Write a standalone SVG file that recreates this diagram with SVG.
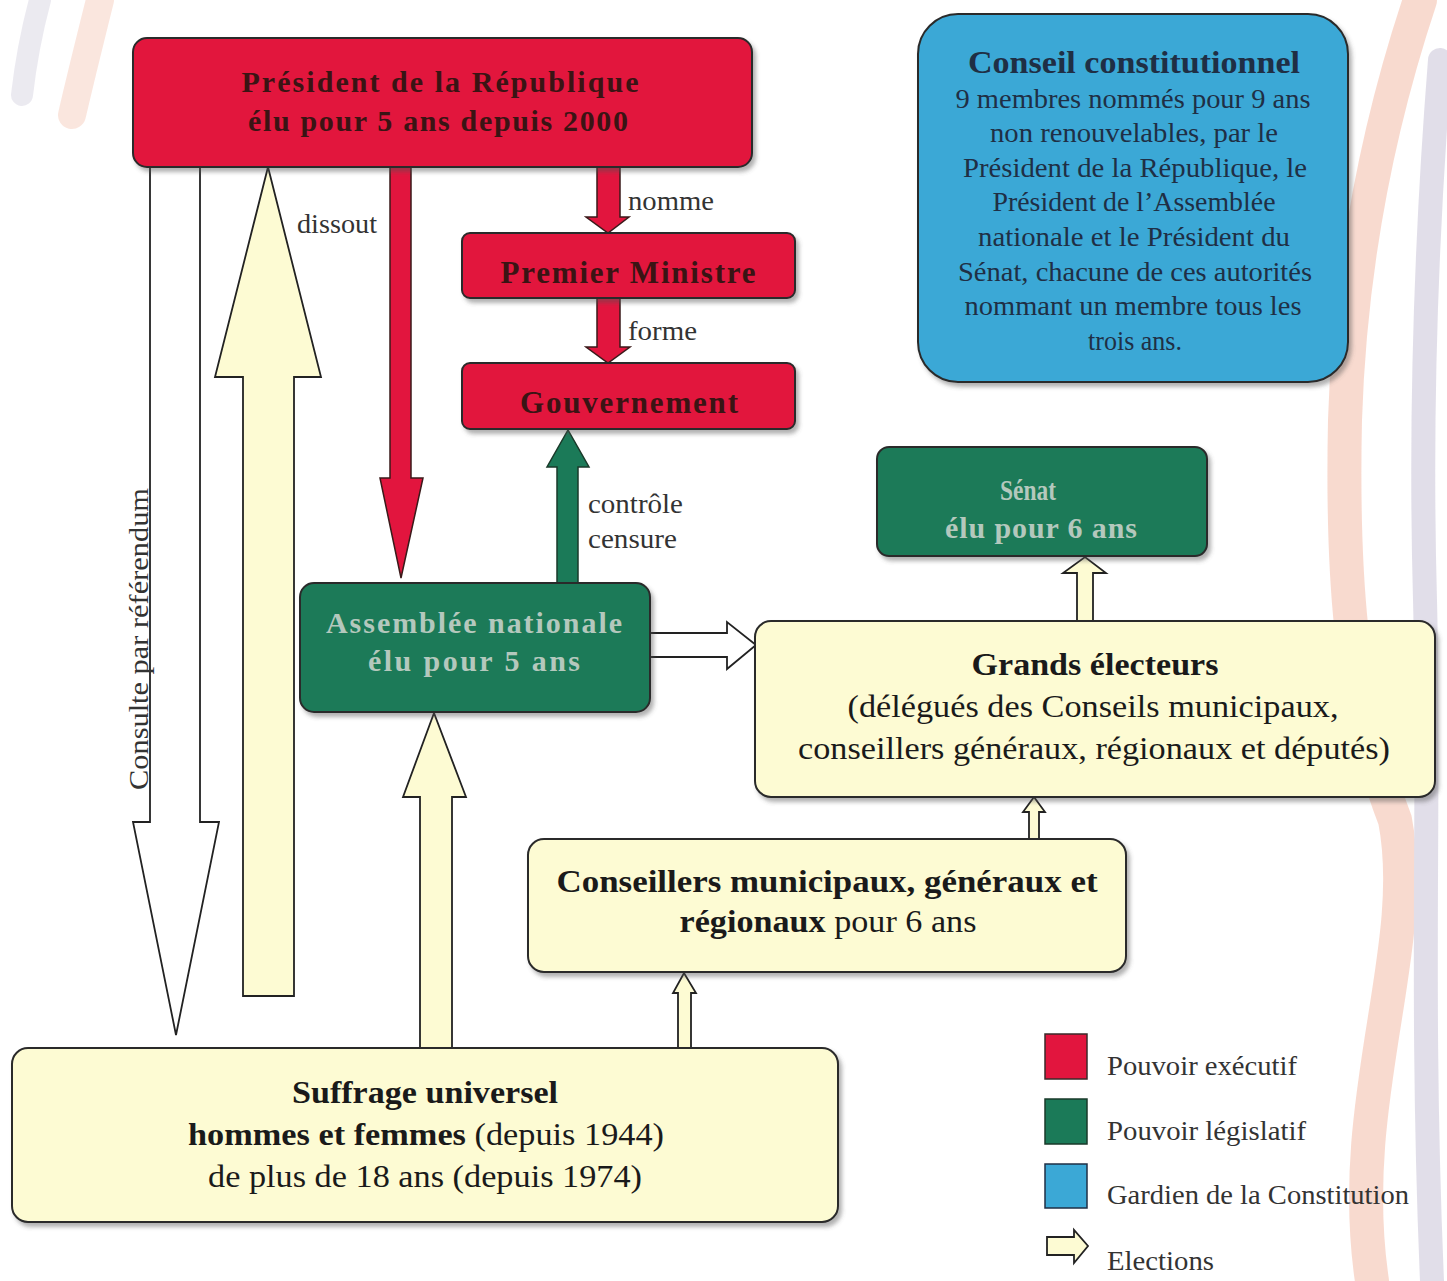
<svg xmlns="http://www.w3.org/2000/svg" width="1447" height="1281" viewBox="0 0 1447 1281" font-family="'Liberation Serif','Times New Roman',serif">
<defs>
<filter id="sh" x="-5%" y="-5%" width="115%" height="125%">
<feDropShadow dx="3" dy="4" stdDeviation="2" flood-color="#555" flood-opacity="0.45"/>
</filter>
<style>
text{font-family:"Liberation Serif","Times New Roman",serif;}
.box{stroke:#2b2b2b;stroke-width:2;filter:url(#sh);}
.red{fill:#e2153e;}
.green{fill:#1b7a58;}
.blue{fill:#3ba8d6;}
.yel{fill:#fdfbd3;}
.tr{fill:#3a1414;font-weight:bold;}
.tg{fill:#b4c8bd;font-weight:bold;}
.tb{fill:#1f2f45;}
.tk{fill:#1a1a1a;}
.lbl{fill:#333;font-size:28px;}
.arR{fill:#e2153e;stroke:#3a1a1a;stroke-width:1.5;}
.arG{fill:#1b7a58;stroke:#1a3a2a;stroke-width:1.5;}
.arY{fill:#fdfbd3;stroke:#222;stroke-width:1.8;}
.arW{fill:#ffffff;stroke:#222;stroke-width:1.8;}
.deco{fill:none;stroke-linecap:round;}
</style>
</defs>
<rect x="0" y="0" width="1447" height="1281" fill="#ffffff"/>
<g id="background" opacity="0.4">
<path class="deco" d="M1420 0 C1380 120 1350 260 1345 420 C1342 560 1348 700 1395 820 C1420 950 1345 1100 1372 1281" stroke="#f0a488" stroke-width="34"/>
<path class="deco" d="M1440 60 C1425 250 1420 420 1425 600 C1430 800 1420 1000 1432 1281" stroke="#b6aec9" stroke-width="24"/>
<path class="deco" d="M100 0 C90 40 80 80 72 115" stroke="#f5c1ad" stroke-width="28"/>
<path class="deco" d="M40 0 C32 30 26 60 22 95" stroke="#cfcbdc" stroke-width="22"/>
</g>

<g id="connectors">
<polygon id="arrow-referendum" class="arW" points="150,167 200,167 200,822 219,822 176,1035 133,822 150,822"/>
<polygon id="arrow-elect-president" class="arY" points="243,996 243,377 215,377 268,167 321,377 294,377 294,996"/>
<polygon id="arrow-dissout" class="arR" points="390,167 411,167 411,478 423,478 401,578 380,478 390,478"/>
<polygon id="arrow-nomme" class="arR" points="597,167 620,167 620,217 629,217 608,233 586,217 597,217"/>
<polygon id="arrow-forme" class="arR" points="597,298 620,298 620,347 630,347 608,363 586,347 597,347"/>
<polygon id="arrow-controle" class="arG" points="557,583 578,583 578,467 589,467 568,430 547,467 557,467"/>
<polygon id="arrow-an-ge" class="arW" points="650,633 727,633 727,622 756,645 727,669 727,657 650,657"/>
<polygon id="arrow-su-an" class="arY" points="420,1048 420,797 403,797 434,713 466,797 452,797 452,1048"/>
<polygon id="arrow-su-co" class="arY" points="678,1048 678,993 673,993 684,973 696,993 691,993 691,1048"/>
<polygon id="arrow-co-ge" class="arY" points="1029,839 1029,812 1023,812 1034,797 1045,812 1039,812 1039,839"/>
<polygon id="arrow-ge-se" class="arY" points="1077,621 1077,573 1063,573 1085,557 1106,573 1093,573 1093,621"/>
<text class="lbl" x="628" y="210" textLength="86" lengthAdjust="spacingAndGlyphs">nomme</text>
<text class="lbl" x="628" y="340" textLength="69" lengthAdjust="spacingAndGlyphs">forme</text>
<text class="lbl" x="297" y="233" textLength="80" lengthAdjust="spacingAndGlyphs">dissout</text>
<text class="lbl" x="588" y="513" textLength="95" lengthAdjust="spacingAndGlyphs">contrôle</text>
<text class="lbl" x="588" y="548" textLength="89" lengthAdjust="spacingAndGlyphs">censure</text>
<text class="lbl" font-size="29" text-anchor="middle" transform="translate(148,639) rotate(-90)" textLength="302" lengthAdjust="spacingAndGlyphs">Consulte par référendum</text>
</g>

<g id="president">
<rect class="box red" x="133" y="38" width="619" height="129" rx="14"/>
<text class="tr" x="440" y="92" font-size="30" text-anchor="middle" textLength="397" lengthAdjust="spacing">Président de la République</text>
<text class="tr" x="438" y="131" font-size="30" text-anchor="middle" textLength="380" lengthAdjust="spacing">élu pour 5 ans depuis 2000</text>
</g>

<g id="conseil-constitutionnel">
<rect class="box blue" x="918" y="14" width="430" height="368" rx="40"/>
<text class="tb" x="1134" y="73" font-size="31" font-weight="bold" text-anchor="middle" textLength="332" lengthAdjust="spacingAndGlyphs">Conseil constitutionnel</text>
<g font-size="27" text-anchor="middle" class="tb">
<text x="1133" y="108" textLength="355" lengthAdjust="spacingAndGlyphs">9 membres nommés pour 9 ans</text>
<text x="1134" y="142" textLength="288" lengthAdjust="spacingAndGlyphs">non renouvelables, par le</text>
<text x="1135" y="177" textLength="344" lengthAdjust="spacingAndGlyphs">Président de la République, le</text>
<text x="1134" y="211" textLength="283" lengthAdjust="spacingAndGlyphs">Président de l’Assemblée</text>
<text x="1134" y="246" textLength="312" lengthAdjust="spacingAndGlyphs">nationale et le Président du</text>
<text x="1135" y="281" textLength="354" lengthAdjust="spacingAndGlyphs">Sénat, chacune de ces autorités</text>
<text x="1133" y="315" textLength="337" lengthAdjust="spacingAndGlyphs">nommant un membre tous les</text>
<text x="1135" y="350" textLength="94" lengthAdjust="spacingAndGlyphs">trois ans.</text>
</g>
</g>

<g id="premier-ministre">
<rect class="box red" x="462" y="233" width="333" height="65" rx="8"/>
<text class="tr" x="628" y="283" font-size="31" text-anchor="middle" textLength="255" lengthAdjust="spacing">Premier Ministre</text>
</g>

<g id="gouvernement">
<rect class="box red" x="462" y="363" width="333" height="66" rx="8"/>
<text class="tr" x="629" y="413" font-size="31" text-anchor="middle" textLength="218" lengthAdjust="spacing">Gouvernement</text>
</g>

<g id="senat">
<rect class="box green" x="877" y="447" width="330" height="109" rx="12"/>
<text class="tg" x="1028" y="500" font-size="30" text-anchor="middle" textLength="56" lengthAdjust="spacingAndGlyphs">Sénat</text>
<text class="tg" x="1041" y="538" font-size="30" text-anchor="middle" textLength="192" lengthAdjust="spacing">élu pour 6 ans</text>
</g>

<g id="assemblee-nationale">
<rect class="box green" x="300" y="583" width="350" height="129" rx="14"/>
<text class="tg" x="474" y="633" font-size="30" text-anchor="middle" textLength="296" lengthAdjust="spacing" fill="#a3b8ac">Assemblée nationale</text>
<text class="tg" x="474" y="671" font-size="30" text-anchor="middle" textLength="212" lengthAdjust="spacing">élu pour 5 ans</text>
</g>

<g id="grands-electeurs">
<rect class="box yel" x="755" y="621" width="680" height="176" rx="16"/>
<text class="tk" x="1095" y="675" font-size="32" font-weight="bold" text-anchor="middle" textLength="247" lengthAdjust="spacingAndGlyphs">Grands électeurs</text>
<text class="tk" x="1093" y="717" font-size="32" text-anchor="middle" textLength="491" lengthAdjust="spacingAndGlyphs">(délégués des Conseils municipaux,</text>
<text class="tk" x="1094" y="759" font-size="32" text-anchor="middle" textLength="592" lengthAdjust="spacingAndGlyphs">conseillers généraux, régionaux et députés)</text>
</g>

<g id="conseillers">
<rect class="box yel" x="528" y="839" width="598" height="133" rx="16"/>
<text class="tk" x="827" y="892" font-size="32" font-weight="bold" text-anchor="middle" textLength="541" lengthAdjust="spacingAndGlyphs">Conseillers municipaux, généraux  et</text>
<text class="tk" x="828" y="932" font-size="32" text-anchor="middle" textLength="297" lengthAdjust="spacingAndGlyphs"><tspan font-weight="bold">régionaux</tspan> pour 6 ans</text>
</g>

<g id="suffrage-universel">
<rect class="box yel" x="12" y="1048" width="826" height="174" rx="16"/>
<text class="tk" x="425" y="1103" font-size="32" font-weight="bold" text-anchor="middle" textLength="266" lengthAdjust="spacingAndGlyphs">Suffrage universel</text>
<text class="tk" x="426" y="1145" font-size="32" text-anchor="middle" textLength="476" lengthAdjust="spacingAndGlyphs"><tspan font-weight="bold">hommes et femmes</tspan> (depuis 1944)</text>
<text class="tk" x="425" y="1187" font-size="32" text-anchor="middle" textLength="434" lengthAdjust="spacingAndGlyphs">de plus de 18 ans (depuis 1974)</text>
</g>

<g id="legend">
<rect x="1045" y="1034" width="42" height="45" fill="#e2153e" stroke="#3a2a2a" stroke-width="1.5"/>
<rect x="1045" y="1099" width="42" height="45" fill="#1b7a58" stroke="#1a3a2a" stroke-width="1.5"/>
<rect x="1045" y="1164" width="42" height="44" fill="#3ba8d6" stroke="#1f2f45" stroke-width="1.5"/>
<polygon class="arY" points="1047,1237 1074,1237 1074,1230 1088,1246 1074,1263 1074,1255 1047,1255" stroke-width="1.5"/>
<g font-size="28" fill="#333">
<text x="1107" y="1075" textLength="190" lengthAdjust="spacingAndGlyphs">Pouvoir exécutif</text>
<text x="1107" y="1140" textLength="199" lengthAdjust="spacingAndGlyphs">Pouvoir législatif</text>
<text x="1107" y="1204" textLength="302" lengthAdjust="spacingAndGlyphs">Gardien de la Constitution</text>
<text x="1107" y="1270" textLength="107" lengthAdjust="spacingAndGlyphs">Elections</text>
</g>
</g>
</svg>
